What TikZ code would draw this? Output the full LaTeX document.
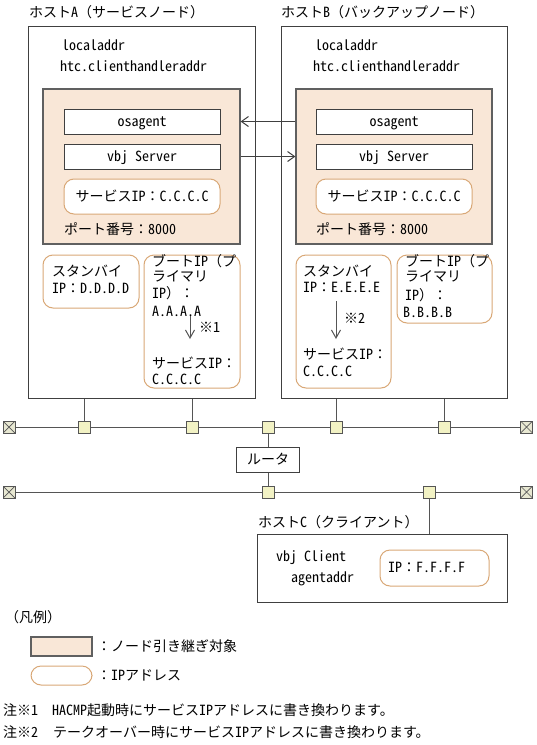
\documentclass[tikz,border=0pt]{standalone}
\usepackage{fontspec}
\setmainfont{Noto Sans CJK JP}
\newfontfamily\hw[RawFeature=+hwid]{Noto Sans CJK JP}
\usetikzlibrary{arrows.meta}
\definecolor{peach}{HTML}{F9E7D7}
\definecolor{tan}{HTML}{D9A877}
\definecolor{boxgray}{HTML}{404040}
\definecolor{linegray}{HTML}{555555}
\definecolor{orgray}{HTML}{606060}
\definecolor{nodefill}{HTML}{F2F2C4}
\definecolor{termfill}{HTML}{E8E8D2}
\tikzset{
  txt/.style={inner sep=0pt, anchor=west, font=\fontsize{14}{16}\selectfont,
    text height=10pt, text depth=0.5pt, text=black},
  hostbox/.style={draw=boxgray, line width=1pt, inner sep=0pt},
  takeover/.style={draw=orgray, fill=peach, line width=1.2pt, inner sep=0pt},
  progbox/.style={draw=boxgray, fill=white, line width=1pt, inner sep=0pt,
    minimum width=156pt, minimum height=25pt, font=\fontsize{14}{16}\selectfont\hw,
    text height=10pt, text depth=0.5pt},
  ipbox/.style={draw=tan, fill=white, line width=1pt, rounded corners=10pt, inner sep=0pt},
  netline/.style={draw=linegray, line width=1pt},
  lan/.style={draw=linegray, fill=nodefill, line width=1pt, minimum size=12pt, inner sep=0pt},
  term/.style={draw=linegray, fill=termfill, line width=0.8pt, minimum size=12pt, inner sep=0pt,
    path picture={\draw[linegray, line width=0.7pt]
      (path picture bounding box.north west) -- (path picture bounding box.south east)
      (path picture bounding box.south west) -- (path picture bounding box.north east);}},
  flow/.style={draw=boxgray, line width=1pt, -{Straight Barb[length=7pt,width=10pt]}},
  downflow/.style={draw=linegray, line width=1pt, -{Straight Barb[length=8pt,width=9pt]}},
}
\newcommand\lbl[4]{\node[txt] (#1) at (#2,#3) {#4};}
\newcommand\h[1]{{\hw #1}}
\begin{document}
\begin{tikzpicture}[x=1pt,y=-1pt]
\useasboundingbox (0,0) rectangle (536,745);
\fill[white] (0,0) rectangle (536,745);

% ---------- Host A ----------
\lbl{titleA}{29}{13}{ホスト\h{A}（サービスノード）}
\node[hostbox, minimum width=227pt, minimum height=372pt] (hostA) at (141.5,212) {};
\lbl{locA}{62}{46}{\h{localaddr}}
\lbl{htcA}{60}{67}{\h{htc.clienthandleraddr}}
\node[takeover, minimum width=197pt, minimum height=155pt] (orA) at (141.5,166.5) {};
\node[progbox] (osA) at (142,121.5) {osagent};
\node[progbox] (vbjA) at (142,156.5) {vbj Server};
\node[ipbox, minimum width=156pt, minimum height=35pt, font=\fontsize{14}{16}\selectfont,
  text height=10pt, text depth=0.5pt] (svcA) at (142,196.5) {サービス\h{IP}：\h{C.C.C.C}};
\lbl{portA}{64}{230}{ポート番号：\h{8000}}

\node[ipbox, minimum width=96pt, minimum height=53pt] (stbA) at (91,281.5) {};
\lbl{stbA1}{52}{272}{スタンバイ}
\lbl{stbA2}{52}{289}{\h{IP}：\h{D.D.D.D}}

\node[ipbox, minimum width=96pt, minimum height=133pt] (bootA) at (192,321.5) {};
\lbl{bootA1}{152}{262}{ブート\h{IP}（プ}
\lbl{bootA2}{152}{277}{ライマリ}
\lbl{bootA3}{152}{294}{\h{IP}）：}
\lbl{bootA4}{152}{312}{\h{A.A.A.A}}
\coordinate (aA1) at (190,316);
\coordinate (aA2) at (190,339);
\draw[downflow] (aA1) -- (aA2);
\lbl{noteA}{199}{328}{※\h{1}}
\lbl{bootA5}{152}{364}{サービス\h{IP}：}
\lbl{bootA6}{152}{380}{\h{C.C.C.C}}

% ---------- Host B ----------
\lbl{titleB}{281}{13}{ホスト\h{B}（バックアップノード）}
\node[hostbox, minimum width=226pt, minimum height=372pt] (hostB) at (394,212) {};
\lbl{locB}{315}{46}{\h{localaddr}}
\lbl{htcB}{313}{67}{\h{htc.clienthandleraddr}}
\node[takeover, minimum width=196pt, minimum height=155pt] (orB) at (394,166.5) {};
\node[progbox] (osB) at (394,121.5) {osagent};
\node[progbox] (vbjB) at (394,156.5) {vbj Server};
\node[ipbox, minimum width=156pt, minimum height=35pt, font=\fontsize{14}{16}\selectfont,
  text height=10pt, text depth=0.5pt] (svcB) at (394,196.5) {サービス\h{IP}：\h{C.C.C.C}};
\lbl{portB}{316}{230}{ポート番号：\h{8000}}

\node[ipbox, minimum width=95pt, minimum height=133pt] (stbB) at (343.5,321.5) {};
\lbl{stbB1}{303}{272}{スタンバイ}
\lbl{stbB2}{303}{288}{\h{IP}：\h{E.E.E.E}}
\coordinate (aB1) at (336,301);
\coordinate (aB2) at (336,339);
\draw[downflow] (aB1) -- (aB2);
\lbl{noteB}{344}{319}{※\h{2}}
\lbl{stbB3}{303}{355}{サービス\h{IP}：}
\lbl{stbB4}{303}{372}{\h{C.C.C.C}}

\node[ipbox, minimum width=95pt, minimum height=68pt] (bootB) at (444.5,289) {};
\lbl{bootB1}{405}{262}{ブート\h{IP}（プ}
\lbl{bootB2}{405}{277}{ライマリ}
\lbl{bootB3}{405}{296}{\h{IP}）：}
\lbl{bootB4}{403}{313}{\h{B.B.B.B}}

% arrows between hosts
\draw[flow] (orB.west |- osA.east) -- (orA.east |- osA.east);
\draw[flow] (orA.east |- vbjA.east) -- (orB.west |- vbjA.east);

% ---------- Networks ----------
\node[term] (t1l) at (9,427) {};
\node[term] (t1r) at (526.5,427) {};
\node[lan] (n1) at (84,427) {};
\node[lan] (n2) at (192,427) {};
\node[lan] (n3) at (268,427) {};
\node[lan] (n4) at (336,427) {};
\node[lan] (n5) at (444,427) {};
\draw[netline] (t1l) -- (n1) -- (n2) -- (n3) -- (n4) -- (n5) -- (t1r);
\draw[netline] (n1) -- (n1 |- hostA.south);
\draw[netline] (n2) -- (n2 |- hostA.south);
\draw[netline] (n4) -- (n4 |- hostB.south);
\draw[netline] (n5) -- (n5 |- hostB.south);

\node[hostbox, fill=white, minimum width=63pt, minimum height=25pt,
  font=\fontsize{14}{16}\selectfont, text height=10pt, text depth=0.5pt] (router) at (268,460) {ルータ};

\node[term] (t2l) at (9,492) {};
\node[term] (t2r) at (526.5,492) {};
\node[lan] (n6) at (268,492) {};
\node[lan] (n7) at (429,492) {};
\draw[netline] (t2l) -- (n6) -- (n7) -- (t2r);
\draw[netline] (n3) -- (router);
\draw[netline] (router) -- (n6);

% ---------- Host C ----------
\lbl{titleC}{258}{523}{ホスト\h{C}（クライアント）}
\node[hostbox, minimum width=250pt, minimum height=68pt] (hostC) at (382,568) {};
\draw[netline] (n7) -- (n7 |- hostC.north);
\lbl{vbjC}{276}{557}{\h{vbj Client}}
\lbl{agC}{291}{578}{\h{agentaddr}}
\node[ipbox, minimum width=109pt, minimum height=36pt] (ipC) at (434.5,568) {};
\lbl{ipCt}{388}{568}{\h{IP}：\h{F.F.F.F}}

% ---------- Legend ----------
\lbl{legT}{5}{618}{（凡例）}
\node[takeover, minimum width=61pt, minimum height=19pt] (leg1) at (61.5,646.5) {};
\lbl{leg1t}{97}{647}{：ノード引き継ぎ対象}
\node[ipbox, minimum width=61pt, minimum height=19pt] (leg2) at (61.5,675.5) {};
\lbl{leg2t}{97}{676}{：\h{IP}アドレス}

% ---------- Notes ----------
\lbl{n1a}{3}{711}{注※\h{1}}
\lbl{n1b}{52}{711}{\h{HACMP}起動時にサービス\h{IP}アドレスに書き換わります。}
\lbl{n2a}{3}{733}{注※\h{2}}
\lbl{n2b}{53}{733}{テークオーバー時にサービス\h{IP}アドレスに書き換わります。}
\end{tikzpicture}
\end{document}
